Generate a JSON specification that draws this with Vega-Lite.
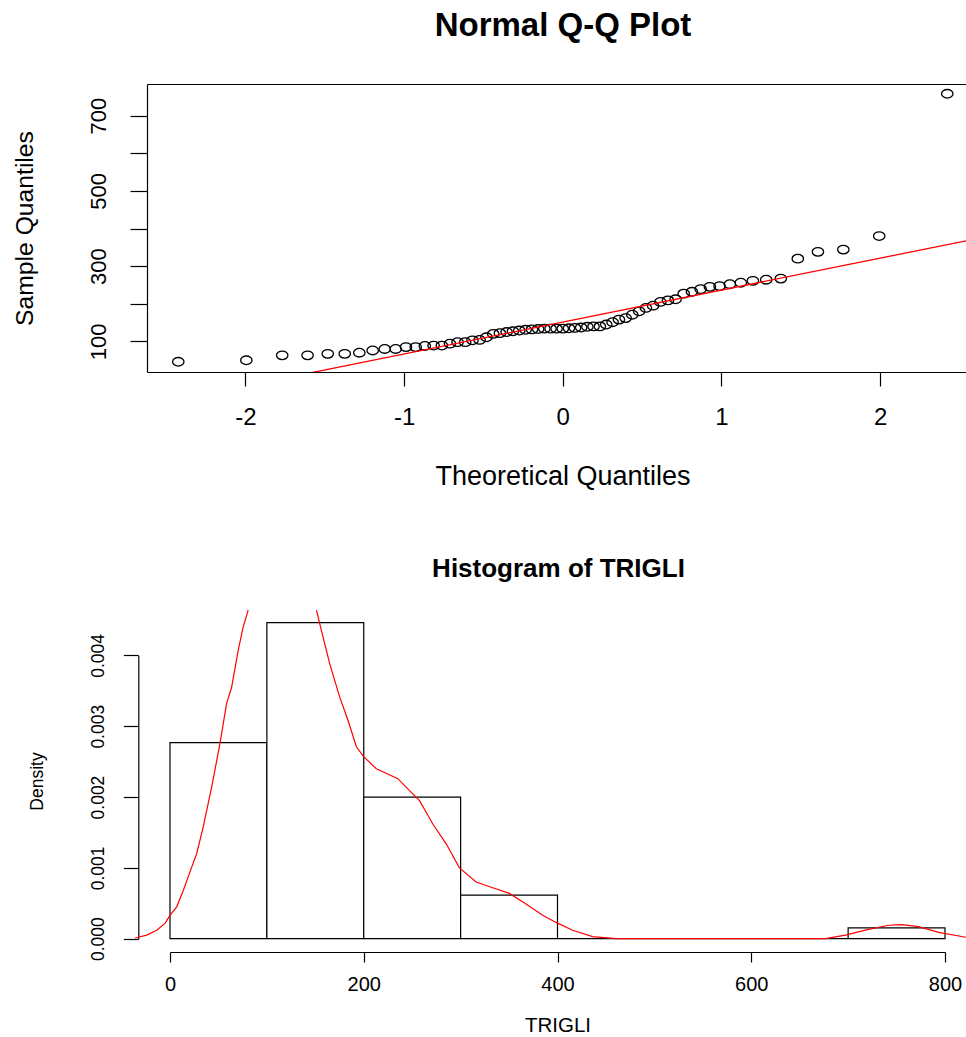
{
  "$schema": "https://vega.github.io/schema/vega-lite/v6.json",
  "background": "white",
  "padding": {"left": 12, "top": 10, "right": 0, "bottom": 0},
  "spacing": 66,
  "config": {
    "font": "Liberation Sans",
    "view": {"stroke": null},
    "axis": {"grid": false, "domainColor": "#000", "tickColor": "#000", "labelColor": "#000", "titleColor": "#000", "titleFontWeight": "normal", "labelFont": "Liberation Sans", "titleFont": "Liberation Sans", "domainWidth": 1.2, "tickWidth": 1.2, "labelFlush": false, "labelOverlap": false},
    "title": {"color": "#000", "font": "Liberation Sans", "fontWeight": "bold", "anchor": "middle", "frame": "group", "baseline": "bottom"}
  },
  "datasets": {
    "qq": [
      {"theoretical": -2.423, "sample": 46}, {"theoretical": -1.994, "sample": 50}, {"theoretical": -1.768, "sample": 63}, {"theoretical": -1.608, "sample": 63},
      {"theoretical": -1.481, "sample": 67}, {"theoretical": -1.374, "sample": 67}, {"theoretical": -1.282, "sample": 70}, {"theoretical": -1.198, "sample": 76},
      {"theoretical": -1.122, "sample": 80}, {"theoretical": -1.053, "sample": 80}, {"theoretical": -0.988, "sample": 85}, {"theoretical": -0.927, "sample": 85},
      {"theoretical": -0.869, "sample": 88}, {"theoretical": -0.814, "sample": 89}, {"theoretical": -0.762, "sample": 89}, {"theoretical": -0.711, "sample": 94},
      {"theoretical": -0.663, "sample": 98}, {"theoretical": -0.615, "sample": 98}, {"theoretical": -0.569, "sample": 103}, {"theoretical": -0.524, "sample": 104},
      {"theoretical": -0.481, "sample": 111}, {"theoretical": -0.438, "sample": 120}, {"theoretical": -0.396, "sample": 122}, {"theoretical": -0.354, "sample": 125},
      {"theoretical": -0.314, "sample": 127}, {"theoretical": -0.274, "sample": 129}, {"theoretical": -0.234, "sample": 131}, {"theoretical": -0.194, "sample": 132},
      {"theoretical": -0.155, "sample": 133}, {"theoretical": -0.116, "sample": 134}, {"theoretical": -0.077, "sample": 134}, {"theoretical": -0.039, "sample": 134},
      {"theoretical": 0.0, "sample": 134}, {"theoretical": 0.039, "sample": 135}, {"theoretical": 0.077, "sample": 136}, {"theoretical": 0.116, "sample": 137},
      {"theoretical": 0.155, "sample": 139}, {"theoretical": 0.194, "sample": 140}, {"theoretical": 0.234, "sample": 140}, {"theoretical": 0.274, "sample": 145},
      {"theoretical": 0.314, "sample": 151}, {"theoretical": 0.354, "sample": 158}, {"theoretical": 0.396, "sample": 162}, {"theoretical": 0.438, "sample": 171},
      {"theoretical": 0.481, "sample": 180}, {"theoretical": 0.524, "sample": 189}, {"theoretical": 0.569, "sample": 195}, {"theoretical": 0.615, "sample": 205},
      {"theoretical": 0.663, "sample": 209}, {"theoretical": 0.711, "sample": 212}, {"theoretical": 0.762, "sample": 227}, {"theoretical": 0.814, "sample": 232},
      {"theoretical": 0.869, "sample": 239}, {"theoretical": 0.927, "sample": 245}, {"theoretical": 0.988, "sample": 247}, {"theoretical": 1.053, "sample": 252},
      {"theoretical": 1.122, "sample": 256}, {"theoretical": 1.198, "sample": 261}, {"theoretical": 1.282, "sample": 264}, {"theoretical": 1.374, "sample": 267},
      {"theoretical": 1.481, "sample": 320}, {"theoretical": 1.608, "sample": 338}, {"theoretical": 1.768, "sample": 344}, {"theoretical": 1.994, "sample": 380},
      {"theoretical": 2.423, "sample": 758}
    ],
    "qqline": [
      {"theoretical": -3, "sample": -103.2},
      {"theoretical": 3, "sample": 406.2}
    ],
    "hist": [
      {"bin_start": 0, "bin_end": 100, "density": 0.002769},
      {"bin_start": 100, "bin_end": 200, "density": 0.004462},
      {"bin_start": 200, "bin_end": 300, "density": 0.002},
      {"bin_start": 300, "bin_end": 400, "density": 0.000615},
      {"bin_start": 400, "bin_end": 500, "density": 0},
      {"bin_start": 500, "bin_end": 600, "density": 0},
      {"bin_start": 600, "bin_end": 700, "density": 0},
      {"bin_start": 700, "bin_end": 800, "density": 0.000154}
    ],
    "dens": [
      {"part": "a", "x": -36, "density": 0.00001},
      {"part": "a", "x": -32.7, "density": 0.00002},
      {"part": "a", "x": -24, "density": 0.00005},
      {"part": "a", "x": -13.7, "density": 0.00012},
      {"part": "a", "x": -5, "density": 0.00022},
      {"part": "a", "x": 0, "density": 0.00033},
      {"part": "a", "x": 6.9, "density": 0.00045},
      {"part": "a", "x": 13.7, "density": 0.00068},
      {"part": "a", "x": 22.4, "density": 0.00101},
      {"part": "a", "x": 27.5, "density": 0.0012},
      {"part": "a", "x": 34.3, "density": 0.00158},
      {"part": "a", "x": 43, "density": 0.00214},
      {"part": "a", "x": 51.5, "density": 0.00275},
      {"part": "a", "x": 58.4, "density": 0.00332},
      {"part": "a", "x": 63.6, "density": 0.00355},
      {"part": "a", "x": 70.4, "density": 0.00407},
      {"part": "a", "x": 75.5, "density": 0.0044},
      {"part": "a", "x": 80.7, "density": 0.00464},
      {"part": "b", "x": 151.2, "density": 0.00464},
      {"part": "b", "x": 156.3, "density": 0.00435},
      {"part": "b", "x": 164.9, "density": 0.00388},
      {"part": "b", "x": 175.2, "density": 0.00341},
      {"part": "b", "x": 183.8, "density": 0.00308},
      {"part": "b", "x": 192.4, "density": 0.00271},
      {"part": "b", "x": 199.9, "density": 0.00257},
      {"part": "b", "x": 213, "density": 0.0024},
      {"part": "b", "x": 235.2, "density": 0.00226},
      {"part": "b", "x": 247.3, "density": 0.00209},
      {"part": "b", "x": 257.6, "density": 0.00195},
      {"part": "b", "x": 271.3, "density": 0.00162},
      {"part": "b", "x": 285.1, "density": 0.00134},
      {"part": "b", "x": 298.8, "density": 0.001},
      {"part": "b", "x": 316, "density": 0.0008},
      {"part": "b", "x": 333.1, "density": 0.00072},
      {"part": "b", "x": 350.3, "density": 0.00064},
      {"part": "b", "x": 367.5, "density": 0.00049},
      {"part": "b", "x": 384.7, "density": 0.00033},
      {"part": "b", "x": 398.5, "density": 0.00023},
      {"part": "b", "x": 415.6, "density": 0.00012},
      {"part": "b", "x": 436.2, "density": 0.00003},
      {"part": "b", "x": 460.3, "density": 0},
      {"part": "b", "x": 676.6, "density": 0},
      {"part": "b", "x": 697.2, "density": 0.00005},
      {"part": "b", "x": 717.8, "density": 0.00012},
      {"part": "b", "x": 741.8, "density": 0.00019},
      {"part": "b", "x": 755.5, "density": 0.0002},
      {"part": "b", "x": 772.8, "density": 0.00017},
      {"part": "b", "x": 793.4, "density": 0.00009},
      {"part": "b", "x": 821.6, "density": 0.00002}
    ]
  },
  "vconcat": [
    {
      "width": 819,
      "height": 288,
      "title": {"text": "Normal Q-Q Plot", "fontSize": 33, "offset": 41, "dx": 6.5},
      "layer": [
        {
          "data": {"name": "qq"},
          "mark": {"type": "point", "shape": "M-1,0A1,0.75,0,1,1,1,0A1,0.75,0,1,1,-1,0Z", "size": 130, "filled": false, "color": "#000", "strokeWidth": 1.3, "opacity": 1},
          "encoding": {
            "x": {"field": "theoretical", "type": "quantitative", "scale": {"domain": [-2.62, 2.541], "nice": false, "zero": false},
              "axis": {"values": [-2, -1, 0, 1, 2], "labelExpr": "'' + datum.value", "tickSize": 14, "labelFontSize": 24, "labelPadding": 19, "title": "Theoretical Quantiles", "titleFontSize": 27, "titlePadding": 34, "titleX": 415.5}},
            "y": {"field": "sample", "type": "quantitative", "scale": {"domain": [18.8, 784], "nice": false, "zero": false},
              "axis": {"values": [100, 200, 300, 400, 500, 600, 700], "labelExpr": "datum.value % 200 == 100 ? '' + datum.value : ''", "labelAngle": -90, "labelAlign": "center", "labelBaseline": "bottom", "tickSize": 17, "labelFontSize": 22, "labelPadding": 20, "title": "Sample Quantiles", "titleFontSize": 24.7, "titlePadding": 50}}
          }
        },
        {
          "data": {"name": "qqline"},
          "mark": {"type": "line", "color": "#FF0000", "strokeWidth": 1.3, "clip": true},
          "encoding": {
            "x": {"field": "theoretical", "type": "quantitative", "axis": {"orient": "top", "labels": false, "ticks": false, "title": null}},
            "y": {"field": "sample", "type": "quantitative"}
          }
        }
      ],
      "resolve": {"axis": {"x": "independent"}}
    },
    {
      "width": 819,
      "height": 342,
      "title": {"text": "Histogram of TRIGLI", "fontSize": 26, "offset": 26, "dx": 2},
      "layer": [
        {
          "data": {"name": "hist"},
          "mark": {"type": "rect", "fill": "white", "stroke": "#000", "strokeWidth": 1.2},
          "encoding": {
            "x": {"field": "bin_start", "type": "quantitative", "scale": {"domain": [0, 800], "range": [23, 798], "nice": false, "zero": false},
              "axis": {"values": [0, 200, 400, 600, 800], "labelExpr": "'' + datum.value", "tickSize": 10, "labelFontSize": 20, "labelPadding": 12, "title": "TRIGLI", "titleFontSize": 20.5, "titlePadding": 21}},
            "x2": {"field": "bin_end"},
            "y": {"field": "density", "type": "quantitative", "scale": {"domain": [0, 0.004], "range": [328.7, 45.4], "nice": false, "zero": false},
              "axis": {"values": [0, 0.001, 0.002, 0.003, 0.004], "format": ".3f", "offset": 8.7, "tickSize": 15, "labelAngle": -90, "labelAlign": "center", "labelBaseline": "bottom", "labelFontSize": 17.5, "labelPadding": 16, "title": "Density", "titleFontSize": 17.5, "titlePadding": 43, "titleY": 171}},
            "y2": {"datum": 0}
          }
        },
        {
          "data": {"name": "dens"},
          "mark": {"type": "line", "color": "#FF0000", "strokeWidth": 1.2},
          "encoding": {
            "x": {"field": "x", "type": "quantitative"},
            "y": {"field": "density", "type": "quantitative"},
            "detail": {"field": "part"}
          }
        }
      ]
    }
  ]
}
